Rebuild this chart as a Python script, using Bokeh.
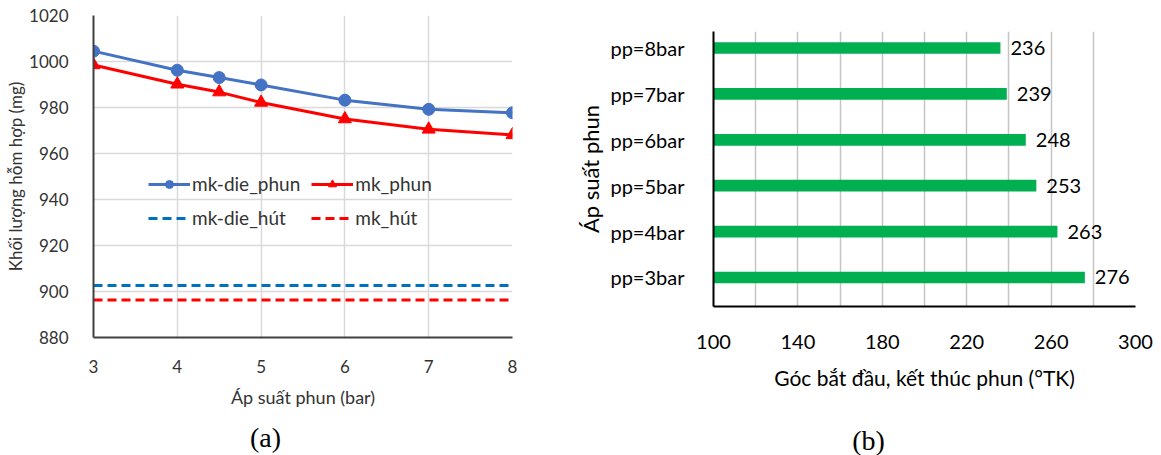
from bokeh.plotting import figure
from bokeh.layouts import row, column
from bokeh.models import Range1d, FixedTicker, SingleIntervalTicker, Legend, LegendItem, Label
from bokeh.core.properties import value
from bokeh.embed import file_html
from bokeh.resources import INLINE

# ---- data (a) ----
pressure = [3, 4, 4.5, 5, 6, 7, 8]
mk_die_phun = [1004.5, 996.2, 993.0, 989.8, 983.2, 979.2, 977.7]
mk_phun = [998.5, 990.1, 986.7, 982.2, 975.0, 970.5, 968.1]
mk_die_hut = 902.6
mk_hut = 896.3
x_ticks_a = [3, 4, 5, 6, 7, 8]

# ---- data (b) ----
categories_b = ["pp=3bar", "pp=4bar", "pp=5bar", "pp=6bar", "pp=7bar", "pp=8bar"]
angles_b = [276, 263, 253, 248, 239, 236]
x_ticks_b = [100, 140, 180, 220, 260, 300]

captions = ["(a)", "(b)"]

FONT = "Lato"
AX = "#404040"
GRID = "#d9d9d9"
H = 410

# ================= (a) =================
pa = figure(width=560, height=H, output_backend="svg", toolbar_location=None,
            x_range=Range1d(3, 8), y_range=Range1d(880, 1020),
            min_border_left=93, min_border_right=48, min_border_top=15, min_border_bottom=H - 338)
pa.outline_line_color = None
pa.background_fill_color = "white"
pa.border_fill_color = "white"

pa.xaxis.ticker = FixedTicker(ticks=x_ticks_a)
pa.yaxis.ticker = SingleIntervalTicker(interval=20)
pa.xgrid.ticker = FixedTicker(ticks=x_ticks_a)
for g in (pa.xgrid, pa.ygrid):
    g.grid_line_color = GRID
    g.grid_line_width = 1.5
for ax in (pa.xaxis, pa.yaxis):
    ax.axis_line_color = AX
    ax.axis_line_width = 2
    ax.major_tick_line_color = None
    ax.minor_tick_line_color = None
    ax.major_label_text_font = FONT
    ax.major_label_text_font_size = "17px"
    ax.major_label_text_color = "#333333"
    ax.axis_label_text_font = FONT
    ax.axis_label_text_font_size = "18px"
    ax.axis_label_text_font_style = "normal"
    ax.axis_label_text_color = "#333333"
pa.yaxis.axis_label_text_font_size = "17px"
pa.xaxis.major_label_standoff = 16
pa.yaxis.major_label_standoff = 19
pa.xaxis.axis_label = "Áp suất phun (bar)"
pa.yaxis.axis_label = "Khối lượng hỗm hợp (mg)"
pa.xaxis.axis_label_standoff = 10
pa.yaxis.axis_label_standoff = 0

x0, x1 = min(pressure), max(pressure)
r_dh = pa.line([x0, x1], [mk_die_hut, mk_die_hut], line_color="#0070C0", line_width=3, line_dash="9 5")
r_h = pa.line([x0, x1], [mk_hut, mk_hut], line_color="#FF0000", line_width=3, line_dash="9 5")
l_dp = pa.line(pressure, mk_die_phun, line_color="#4472C4", line_width=3)
m_dp = pa.scatter(pressure, mk_die_phun, marker="circle", size=12, fill_color="#4472C4", line_color="#4472C4")
l_p = pa.line(pressure, mk_phun, line_color="#FF0000", line_width=3)
m_p = pa.scatter(pressure, mk_phun, marker="triangle", size=13, fill_color="#FF0000", line_color="#FF0000")

legend = Legend(items=[
    LegendItem(label="mk-die_phun", renderers=[l_dp, m_dp]),
    LegendItem(label="mk_phun", renderers=[l_p, m_p]),
    LegendItem(label="mk-die_hút", renderers=[r_dh]),
    LegendItem(label="mk_hút", renderers=[r_h]),
], location=(55, 108), orientation="horizontal", ncols=2)
legend.background_fill_alpha = 0
legend.border_line_color = None
legend.padding = 0
legend.margin = 0
legend.spacing = 11
legend.glyph_width = 42
legend.glyph_height = 20
legend.label_height = 20
legend.label_standoff = 2
legend.label_text_font = FONT
legend.label_text_font_size = "19px"
legend.label_text_color = "#333333"
pa.add_layout(legend, "center")

# ================= (b) =================
ypos = list(range(1, len(categories_b) + 1))
pb = figure(width=601, height=H, output_backend="svg", toolbar_location=None,
            x_range=Range1d(100, 300), y_range=Range1d(0.368, 6.36),
            min_border_left=153, min_border_right=26, min_border_top=31, min_border_bottom=H - 306)
pb.outline_line_color = None
pb.background_fill_color = "white"
pb.border_fill_color = "white"
pb.ygrid.grid_line_color = None
pb.xgrid.ticker = SingleIntervalTicker(interval=20)
pb.xgrid.grid_line_color = "#c4c4c4"
pb.xgrid.grid_line_width = 1.5
pb.xaxis.ticker = FixedTicker(ticks=x_ticks_b)
pb.yaxis.ticker = FixedTicker(ticks=ypos)
pb.yaxis.major_label_overrides = {y: c for y, c in zip(ypos, categories_b)}
for ax in (pb.xaxis, pb.yaxis):
    ax.axis_line_color = "black"
    ax.axis_line_width = 2
    ax.major_tick_line_color = None
    ax.minor_tick_line_color = None
    ax.major_label_text_font = FONT
    ax.major_label_text_font_size = "20px"
    ax.major_label_text_color = "black"
    ax.axis_label_text_font = FONT
    ax.axis_label_text_font_size = "21px"
    ax.axis_label_text_font_style = "normal"
    ax.axis_label_text_color = "black"
pb.yaxis.axis_label_text_font_size = "22px"
pb.xaxis.major_label_standoff = 22
pb.yaxis.major_label_standoff = 23
pb.xaxis.axis_label = "Góc bắt đầu, kết thúc phun (°TK)"
pb.yaxis.axis_label = "Áp suất phun"
pb.xaxis.axis_label_standoff = 13
pb.yaxis.axis_label_standoff = 3

pb.hbar(y=ypos, left=100, right=angles_b, height=0.255, fill_color="#00B050", line_color=None)
pb.text(x=angles_b, y=ypos, text=[str(v) for v in angles_b], x_offset=10, text_baseline="middle",
        text_font=value(FONT), text_font_size="20px", text_color="black")

# ================= captions strip =================
CAP_H = 455 - H
cap = figure(width=1161, height=CAP_H, output_backend="svg", toolbar_location=None,
             x_range=Range1d(0, 1161), y_range=Range1d(0, CAP_H),
             min_border=0, min_border_left=0, min_border_right=0, min_border_top=0, min_border_bottom=0)
cap.axis.visible = False
cap.grid.visible = False
cap.outline_line_color = None
cap.background_fill_color = "white"
cap.border_fill_color = "white"
for cx, cy, txt in zip([265, 868], [CAP_H - 27, CAP_H - 30], captions):
    cap.add_layout(Label(x=cx, y=cy, text=txt, text_align="center", text_baseline="middle",
                         text_font="Liberation Serif", text_font_size="28px", text_color="black"))

layout = column(row(column(pa), column(pb)), cap)
open("out.html", "w").write(file_html(layout, INLINE))
